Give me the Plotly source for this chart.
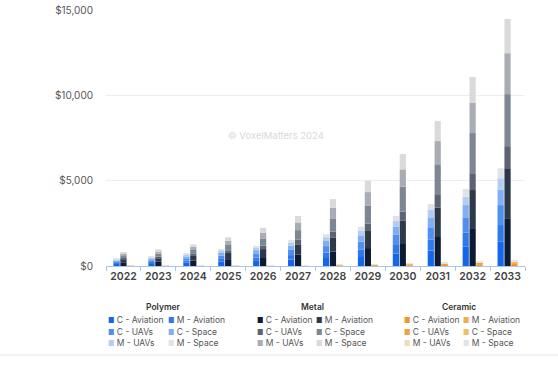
import plotly.graph_objects as go

years = [str(y) for y in range(2022, 2034)]
segments = ["C - Aviation", "M - Aviation", "C - UAVs", "C - Space", "M - UAVs", "M - Space"]
materials = ["Polymer", "Metal", "Ceramic"]
y_ticks = [0, 5000, 10000, 15000]
y_tick_labels = ["$0", "$5,000", "$10,000", "$15,000"]

# Polymer (USD millions)
polymer_c_aviation = [120, 145, 190, 250, 300, 380, 470, 580, 730, 900, 1130, 1420]
polymer_m_aviation = [70, 90, 120, 165, 200, 260, 320, 390, 500, 660, 820, 980]
polymer_c_uavs = [90, 110, 150, 195, 240, 305, 375, 460, 590, 710, 900, 1170]
polymer_c_space = [70, 85, 115, 155, 190, 245, 300, 370, 470, 580, 720, 880]
polymer_m_uavs = [55, 65, 90, 120, 145, 185, 225, 280, 350, 430, 490, 690]
polymer_m_space = [45, 55, 75, 95, 115, 145, 180, 220, 290, 350, 450, 580]

# Metal
metal_c_aviation = [220, 250, 320, 400, 520, 660, 850, 1050, 1290, 1700, 2170, 2800]
metal_m_aviation = [170, 210, 270, 360, 470, 610, 800, 1000, 1360, 1720, 2280, 2930]
metal_c_uavs = [80, 90, 120, 160, 210, 270, 360, 440, 530, 740, 940, 1290]
metal_c_space = [150, 180, 230, 310, 420, 560, 780, 1060, 1470, 1800, 2400, 3050]
metal_m_uavs = [110, 140, 180, 250, 340, 450, 620, 780, 1010, 1360, 1760, 2400]
metal_m_space = [90, 110, 150, 200, 280, 380, 510, 670, 900, 1180, 1520, 2000]

# Ceramic
ceramic_c_aviation = [5, 6, 9, 12, 16, 22, 30, 40, 56, 72, 96, 120]
ceramic_m_aviation = [2, 3, 4, 6, 8, 11, 15, 20, 28, 36, 48, 60]
ceramic_c_uavs = [2, 3, 4, 5, 7, 9, 12, 16, 22, 28, 38, 47]
ceramic_c_space = [1.5, 2, 2.5, 3.5, 5, 7, 9, 12, 17, 22, 29, 36]
ceramic_m_uavs = [1, 1, 1.5, 2, 2.5, 4, 6, 8, 11, 14, 19, 24]
ceramic_m_space = [0.5, 1, 1, 1.5, 1.5, 2, 3, 4, 6, 8, 10, 13]

series = {
    "Polymer": [polymer_c_aviation, polymer_m_aviation, polymer_c_uavs,
                polymer_c_space, polymer_m_uavs, polymer_m_space],
    "Metal": [metal_c_aviation, metal_m_aviation, metal_c_uavs,
              metal_c_space, metal_m_uavs, metal_m_space],
    "Ceramic": [ceramic_c_aviation, ceramic_m_aviation, ceramic_c_uavs,
                ceramic_c_space, ceramic_m_uavs, ceramic_m_space],
}

colors = {
    "Polymer": ["#1466ea", "#2f7ae8", "#4f8ff0", "#80b0f3", "#b4cdf3", "#dfe3e8"],
    "Metal": ["#0c1a33", "#2d3848", "#5b6470", "#7d8794", "#a9adb3", "#dadada"],
    "Ceramic": ["#f0952a", "#f5ad48", "#f2a03c", "#f6bd68", "#efdcc0", "#e4e4e4"],
}

fig = go.Figure()
for m in materials:
    base = [0] * len(years)
    for seg, vals, col in zip(segments, series[m], colors[m]):
        fig.add_trace(go.Bar(
            x=years, y=vals, base=base[:], offsetgroup=m,
            name=f"{m} {seg}", marker=dict(color=col, line=dict(width=0)),
            showlegend=False,
        ))
        base = [b + v for b, v in zip(base, vals)]

# Pixel helpers for layout placement
L, R, T, B = 106, 33, 10, 100
W, H = 558, 366
pw, ph = W - L - R, H - T - B


def px(x):
    return (x - L) / pw


def py(y):
    return (H - B - y) / ph


annotations = []
legend_cols = {"Polymer": (106, 166, 163), "Metal": (255, 314, 312), "Ceramic": (402, 461, 459)}
row_y = [320, 332, 343]
for m in materials:
    c1, c2, tc = legend_cols[m]
    annotations.append(dict(
        x=px(tc), y=py(307), xref="paper", yref="paper", text=m, showarrow=False,
        xanchor="center", yanchor="middle",
        font=dict(family="Inter, sans-serif", size=8.5, color="#333", weight=600),
    ))
    for j, seg in enumerate(segments):
        cx = c1 if j % 2 == 0 else c2
        annotations.append(dict(
            x=px(cx), y=py(row_y[j // 2]), xref="paper", yref="paper",
            text=f"<span style='font-size:7px;color:{colors[m][j]}'>■</span> {seg}",
            showarrow=False, xanchor="left", yanchor="middle",
            font=dict(family="Inter, sans-serif", size=8.5, color="#555"),
        ))

annotations.append(dict(
    x=px(276), y=py(135), xref="paper", yref="paper", text="© VoxelMatters 2024",
    showarrow=False, xanchor="center", yanchor="middle",
    font=dict(family="Inter, sans-serif", size=9.5, color="#d9d9d9"),
))

fig.update_layout(
    width=W, height=H,
    margin=dict(l=L, r=R, t=T, b=B, pad=0, autoexpand=False),
    paper_bgcolor="white", plot_bgcolor="white",
    barmode="group", bargap=0.407, bargroupgap=0.1,
    annotations=annotations,
    shapes=[dict(type="line", xref="paper", yref="paper", x0=px(0), x1=px(558),
                 y0=py(355), y1=py(355), line=dict(color="#e6e6e6", width=1))],
    xaxis=dict(
        type="category", showgrid=False, showline=True, linecolor="#a9c6ea", linewidth=1,
        ticks="outside", tickson="boundaries", ticklen=4, tickcolor="#a9c6ea",
        tickangle=0, automargin=False,
        tickfont=dict(family="Inter, sans-serif", size=10.5, color="#444", weight=600),
    ),
    yaxis=dict(
        range=[0, 15000], tickvals=y_ticks, ticktext=y_tick_labels, automargin=False,
        showgrid=True, gridcolor="#eeeeee", gridwidth=1, zeroline=False, showline=False,
        ticklabelstandoff=12,
        tickfont=dict(family="Inter, sans-serif", size=10, color="#555"),
    ),
)

fig.write_html(
    "out.html",
    config={"displayModeBar": False},
    post_script="document.body.style.margin='0';document.body.style.overflow='hidden';",
)
